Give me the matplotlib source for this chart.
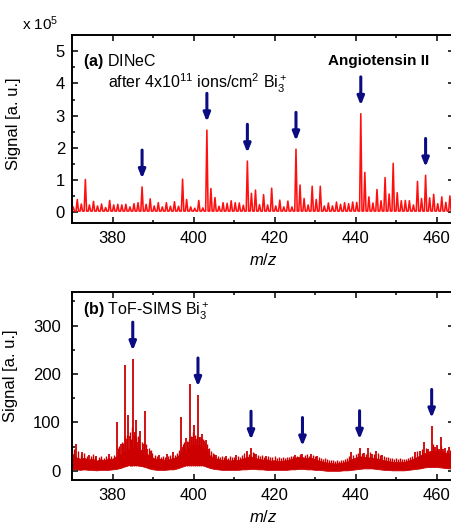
import numpy as np
import matplotlib
matplotlib.use('Agg')
import matplotlib.pyplot as plt
from matplotlib.ticker import MultipleLocator

plt.rcParams['font.family'] = 'Liberation Sans'
plt.rcParams['mathtext.fontset'] = 'custom'
plt.rcParams['mathtext.rm'] = 'Liberation Sans'
plt.rcParams['mathtext.it'] = 'Liberation Sans:italic'
plt.rcParams['mathtext.bf'] = 'Liberation Sans:bold'

# (a) DINeC spectrum, signal in units of 1e5, one value per nominal mass 370 ... 464
dinec_nominal = np.arange(370, 465)
dinec_signal = [
    0.17, 0.40, 0.26, 1.02, 0.23, 0.34, 0.20, 0.26, 0.15, 0.37,   # 370-379
    0.23, 0.25, 0.23, 0.25, 0.17, 0.27, 0.30, 0.79, 0.25, 0.42,   # 380-389
    0.20, 0.30, 0.17, 0.30, 0.19, 0.33, 0.19, 1.03, 0.40, 0.17,   # 390-399
    0.13, 0.37, 0.14, 2.55, 0.74, 0.46, 0.19, 0.30, 0.28, 0.36,   # 400-409
    0.30, 0.29, 0.22, 1.59, 0.59, 0.69, 0.24, 0.55, 0.23, 0.75,   # 410-419
    0.20, 0.38, 0.17, 0.35, 0.17, 1.96, 0.85, 0.43, 0.23, 0.81,   # 420-429
    0.40, 0.81, 0.20, 0.29, 0.20, 0.32, 0.25, 0.30, 0.27, 0.32,   # 430-439
    0.31, 3.06, 1.24, 0.48, 0.29, 0.71, 0.36, 1.08, 0.57, 1.52,   # 440-449
    0.61, 0.36, 0.37, 0.36, 0.23, 0.96, 0.43, 1.15, 0.45, 0.56,   # 450-459
    0.27, 0.48, 0.31, 0.51, 0.30,                                 # 460-464
]
dinec_base = 0.04
mass_defect = 0.3
dinec_marked = [387, 403, 413, 425, 441, 457]

# (b) ToF-SIMS spectrum: noise band (per nominal mass) plus spikes
band_mz = np.arange(370, 465)
band_low = [4, 3, 2, 3, 2, 2, 1, 2, 2, 2,
            3, 4, 6, 9, 12, 13, 12, 10, 8, 5,
            3, 2, 2, 2, 3, 3, 5, 8, 11, 14,
            16, 15, 13, 9, 6, 4, 3, 2, 2, 2,
            2, 2, 3, 3, 4, 4, 3, 3, 2, 2,
            2, 2, 2, 2, 3, 3, 4, 4, 3, 3,
            2, 2, 1, 0, 0, 0, 0, 1, 1, 2,
            3, 4, 5, 5, 5, 4, 3, 2, 2, 1,
            1, 1, 1, 2, 3, 4, 5, 7, 8, 8,
            8, 7, 6, 5, 5]
band_high = [36, 28, 25, 27, 23, 25, 21, 24, 22, 25,
             25, 30, 34, 40, 46, 50, 48, 43, 38, 32,
             27, 24, 25, 22, 24, 26, 30, 38, 44, 50,
             54, 53, 48, 42, 32, 27, 25, 22, 24, 21,
             23, 22, 25, 28, 30, 27, 25, 23, 24, 21,
             22, 20, 21, 22, 24, 27, 29, 28, 26, 27,
             24, 21, 19, 17, 16, 15, 16, 17, 20, 24,
             27, 30, 29, 28, 27, 26, 24, 22, 20, 19,
             18, 19, 18, 21, 24, 28, 32, 36, 40, 42,
             41, 40, 38, 36, 33]

# resolved peaks
spike_mz = [370.9, 372.5, 374.2, 376.0, 379.1, 381.0, 382.0, 382.5, 383.0, 383.5,
            383.9, 384.4, 385.0, 385.5, 385.9, 386.4, 386.9, 387.5, 388.1, 388.6,
            389.3, 391.5, 393.4, 395.0, 397.0, 397.5, 398.1, 398.6, 399.1, 399.6,
            400.1, 400.6, 401.1, 401.6, 402.1, 402.6, 403.1, 403.6, 405.5, 408.0,
            410.5, 413.1, 414.2, 415.5, 418.0, 425.1, 426.9, 429.1, 430.5, 439.0,
            441.0, 442.0, 443.0, 444.0, 445.0, 446.5, 454.8, 456.0, 456.9, 458.0,
            458.8, 459.5, 460.0, 460.5, 461.0, 461.5, 462.0, 463.0, 463.7]
spike_h = [56, 38, 33, 30, 35, 101, 56, 45, 218, 65,
           115, 72, 231, 80, 104, 60, 83, 55, 124, 45,
           40, 32, 34, 38, 112, 50, 68, 60, 179, 70,
           94, 65, 157, 70, 76, 62, 64, 45, 33, 30,
           32, 40, 47, 34, 31, 33, 34, 34, 30, 38,
           48, 36, 47, 34, 41, 33, 39, 40, 59, 45,
           92, 50, 54, 45, 70, 45, 47, 50, 38]

# unresolved noise spikes riding on the band
noise_mz = [370.4, 371.5, 372.1, 373.0, 373.6, 374.7, 375.3, 375.8, 376.6, 377.2,
            377.8, 378.4, 378.8, 379.6, 380.3, 380.7, 381.3, 381.7, 382.3, 382.7,
            383.2, 383.7, 384.2, 384.6, 384.8, 385.2, 385.7, 386.2, 386.6, 387.2,
            387.7, 388.3, 388.9, 389.5, 389.8, 390.4, 390.9, 391.9, 392.4, 392.9,
            393.8, 394.3, 394.8, 395.5, 396.0, 396.5, 396.8, 397.3, 397.7, 398.3,
            398.8, 399.3, 399.8, 400.3, 400.8, 401.4, 401.8, 402.3, 402.8, 403.3,
            403.8, 404.2, 404.7, 405.0, 406.0, 406.5, 407.0, 407.5, 408.5, 409.0,
            409.5, 410.0, 411.0, 411.5, 412.0, 412.5, 413.6, 414.7, 415.0, 416.0,
            416.5, 417.0, 417.5, 418.5, 419.0, 419.5, 420.0, 420.5, 421.0, 421.5,
            422.0, 422.5, 423.0, 423.5, 424.0, 424.5, 425.6, 426.3, 427.5, 428.0,
            428.5, 429.5, 430.0, 431.0, 431.5, 432.0, 432.5, 433.0, 433.5, 434.0,
            434.5, 435.0, 435.5, 436.0, 436.5, 437.0, 437.5, 438.0, 438.5, 439.5,
            440.0, 440.5, 441.5, 442.5, 443.5, 444.5, 445.5, 446.0, 447.0, 447.5,
            448.0, 448.5, 449.0, 449.5, 450.0, 450.5, 451.0, 451.5, 452.0, 452.5,
            453.0, 453.5, 454.0, 455.2, 456.5, 457.5, 459.2, 460.2, 461.2, 462.5,
            463.4, 464.0]
noise_h = [45, 40, 33, 36, 30, 31, 34, 29, 28, 31,
           27, 30, 26, 30, 32, 29, 48, 52, 60, 58,
           70, 75, 80, 66, 90, 75, 70, 72, 66, 60,
           58, 55, 48, 42, 36, 33, 30, 29, 31, 28,
           30, 32, 29, 33, 36, 42, 48, 55, 60, 62,
           66, 72, 80, 75, 72, 70, 68, 66, 58, 55,
           48, 40, 36, 34, 31, 29, 30, 28, 27, 30,
           28, 29, 31, 28, 32, 36, 34, 38, 36, 33,
           30, 32, 29, 30, 28, 29, 30, 27, 28, 26,
           28, 27, 29, 28, 30, 31, 30, 35, 32, 34,
           30, 33, 30, 28, 27, 25, 26, 24, 23, 22,
           22, 21, 22, 21, 22, 23, 24, 26, 30, 33,
           34, 36, 37, 35, 38, 35, 36, 32, 30, 28,
           29, 27, 26, 25, 26, 25, 26, 24, 25, 24,
           26, 28, 30, 40, 45, 48, 55, 48, 52, 44,
           42, 40]
sims_marked = [385.0, 401.1, 414.2, 426.9, 441.0, 458.8]

navy = '#0c0c82'
sims_red = '#cc0000'
arrow_style = dict(arrowstyle='-|>,head_length=0.5,head_width=0.2', color=navy,
                   lw=2.2, shrinkA=0, shrinkB=6)


def style_axis(ax, ypad):
    for sp in ax.spines.values():
        sp.set_linewidth(1.4)
    ax.tick_params(which='both', direction='in', top=True, right=True, width=1.1,
                   labelsize=12)
    ax.tick_params(which='major', length=4.5)
    ax.tick_params(which='minor', length=2.5)
    ax.tick_params(axis='x', pad=6)
    ax.tick_params(axis='y', pad=ypad)
    ax.xaxis.set_major_locator(MultipleLocator(20))
    ax.xaxis.set_minor_locator(MultipleLocator(10))
    ax.set_xlim(370, 464.3)
    ax.set_xlabel('$m/z$', fontsize=12, labelpad=4)


fig = plt.figure(figsize=(4.52, 5.25), dpi=100)

# ---- (a) DINeC
ax1 = fig.add_axes([0.1593, 0.5752, 0.845, 0.3581])
xs = [369.0]
ys = [dinec_base]
for m, h in zip(dinec_nominal + mass_defect, dinec_signal):
    xs += [m - 0.3, m, m + 0.3]
    ys += [dinec_base, h, dinec_base]
ax1.plot(xs, ys, color='#ff1010', lw=1.15)
for m in dinec_marked:
    h = dinec_signal[m - 370]
    ax1.annotate('', xy=(m + mass_defect, h), xytext=(0, 26.5),
                 textcoords='offset points', arrowprops=arrow_style)
ax1.set_ylim(-0.33, 5.5)
ax1.yaxis.set_major_locator(MultipleLocator(1))
ax1.yaxis.set_minor_locator(MultipleLocator(0.5))
style_axis(ax1, 5)
ax1.set_ylabel('Signal [a. u.]', fontsize=12)
ax1.yaxis.set_label_coords(-0.134, 0.527)
ax1.text(0.029, 0.86, r'$\mathbf{(a)}$ DINeC', transform=ax1.transAxes,
         fontsize=11.5, va='center')
ax1.text(0.094, 0.745, r'after 4x10$^{11}$ ions/cm$^{2}$ Bi$_3^+$',
         transform=ax1.transAxes, fontsize=11.5, va='center')
ax1.text(0.935, 0.86, 'Angiotensin II', transform=ax1.transAxes,
         fontsize=11, fontweight='bold', ha='right', va='center')
fig.text(0.049, 0.955, r'x 10$^{5}$', fontsize=11, va='center')

# ---- (b) ToF-SIMS
ax2 = fig.add_axes([0.1593, 0.0857, 0.845, 0.3587])
ax2.fill_between(band_mz, band_low, band_high, color=sims_red, lw=0.6)
ax2.vlines(noise_mz, 10, noise_h, color=sims_red, lw=1.0)
ax2.vlines(spike_mz, 10, spike_h, color=sims_red, lw=1.3)
spike_mz_arr = np.array(spike_mz)
for m in sims_marked:
    h = spike_h[int(np.argmin(np.abs(spike_mz_arr - m)))]
    ax2.annotate('', xy=(m, h), xytext=(0, 26.5),
                 textcoords='offset points', arrowprops=arrow_style)
ax2.set_ylim(-19, 370)
ax2.yaxis.set_major_locator(MultipleLocator(100))
ax2.yaxis.set_minor_locator(MultipleLocator(50))
style_axis(ax2, 8)
ax2.set_ylabel('Signal [a. u.]', fontsize=12)
ax2.yaxis.set_label_coords(-0.141, 0.552)
ax2.text(0.029, 0.895, r'$\mathbf{(b)}$ ToF-SIMS Bi$_3^+$', transform=ax2.transAxes,
         fontsize=11.5, va='center')

fig.savefig('out.png', dpi=100)
